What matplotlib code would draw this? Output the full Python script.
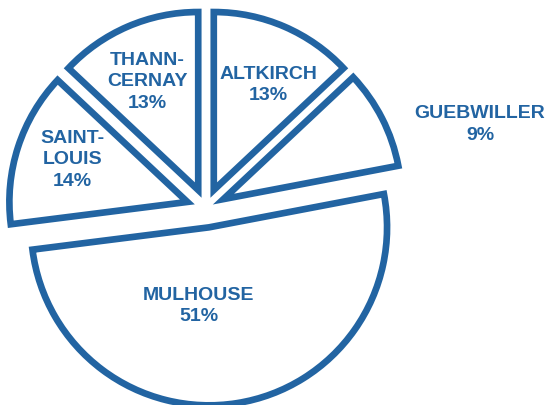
import matplotlib
matplotlib.use('Agg')
import matplotlib.pyplot as plt

# Data
towns = ['ALTKIRCH', 'GUEBWILLER', 'MULHOUSE', 'SAINT-\nLOUIS', 'THANN-\nCERNAY']
shares = [13, 9, 51, 14, 13]

# Label placement (pie-radius units, relative to pie centre)
label_pos = [(0.35, 0.69), (1.54, 0.47), (-0.04, -0.55), (-0.75, 0.27), (-0.33, 0.71)]

blue = '#2264A2'

# Figure
fig = plt.figure(figsize=(5.52, 4.05), dpi=100)
ax = fig.add_axes([0, 0, 1, 1])

R = 178.0  # pixel radius
cx, cy = 206.0, 197.0  # pie centre in pixels from bottom-left

ax.pie(
    shares,
    radius=1,
    startangle=90,
    counterclock=False,
    explode=[0.11] * len(shares),
    wedgeprops=dict(facecolor='white', edgecolor=blue, linewidth=4.8, joinstyle='miter'),
)

for town, share, (x, y) in zip(towns, shares, label_pos):
    ax.text(x, y, f'{town}\n{share}%', ha='center', va='center',
            color=blue, fontsize=14, fontweight='bold',
            family='Liberation Sans', linespacing=1.35)

ax.set_xlim(-cx / R, (552 - cx) / R)
ax.set_ylim(-cy / R, (405 - cy) / R)
ax.set_aspect('equal')
ax.axis('off')

fig.savefig('out.png', dpi=100, facecolor='white')
